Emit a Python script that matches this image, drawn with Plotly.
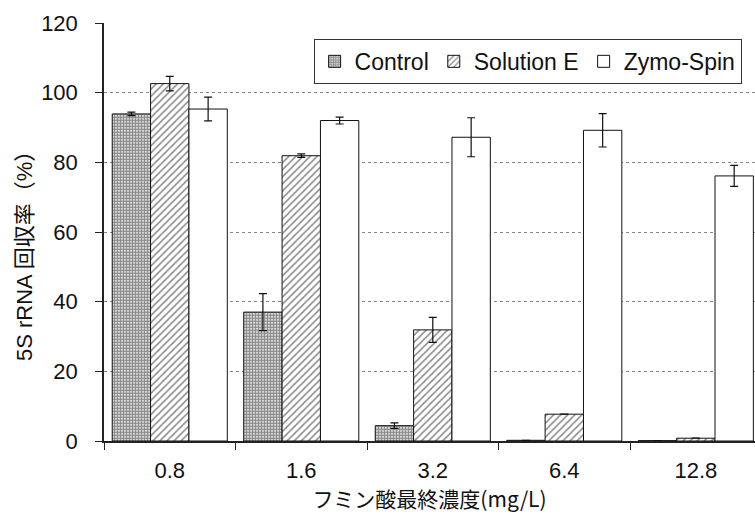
import plotly.graph_objects as go

categories = ["0.8", "1.6", "3.2", "6.4", "12.8"]
control = [93.9, 37.0, 4.4, 0.2, 0.1]
control_err = [0.5, 5.3, 0.8, 0.0, 0.0]
solution_e = [102.6, 81.9, 31.9, 7.7, 0.8]
solution_e_err = [2.1, 0.5, 3.6, 0.0, 0.0]
zymo = [95.3, 92.0, 87.2, 89.2, 76.1]
zymo_err = [3.4, 1.0, 5.6, 4.8, 3.0]

font_lat = "Liberation Sans, Arial, Noto Sans CJK JP"

fig = go.Figure()
series = [
    ("Control", control, control_err, dict(shape=".", size=3, solidity=0.7, fgcolor="#111", bgcolor="white", fillmode="overlay")),
    ("Solution E", solution_e, solution_e_err, dict(shape="/", size=5, solidity=0.3, fgcolor="#111", bgcolor="white", fillmode="overlay")),
    ("Zymo-Spin", zymo, zymo_err, None),
]
for name, vals, errs, pat in series:
    marker = dict(color="white", line=dict(color="#111", width=1))
    if pat:
        marker["pattern"] = pat
    fig.add_trace(go.Bar(
        name=name, x=categories, y=vals,
        marker=marker,
        error_y=dict(type="data", array=errs, visible=True, color="#111", thickness=1.2, width=4),
    ))

fig.update_layout(
    width=755, height=517,
    margin=dict(l=104, r=0, t=23, b=76),
    paper_bgcolor="white", plot_bgcolor="white",
    barmode="group", bargap=0.125, bargroupgap=0,
    font=dict(family=font_lat, size=22, color="#111"),
    legend=dict(
        orientation="h", x=0.322, y=0.962, xanchor="left", yanchor="top",
        bordercolor="#333", borderwidth=1, bgcolor="white",
        font=dict(size=23, family=font_lat), itemwidth=30,
        traceorder="normal",
    ),
    xaxis=dict(
        range=[-0.5, 4.45], type="category",
        showline=True, linecolor="#222", linewidth=1.5,
        ticks="outside", tickson="boundaries", ticklen=7, tickcolor="#222",
        tickfont=dict(size=22), ticklabelstandoff=9,
        title=dict(text="フミン酸最終濃度(mg/L)", font=dict(size=21, family="Noto Sans CJK JP, Liberation Sans"), standoff=2),
    ),
    yaxis=dict(
        range=[0, 120], dtick=20,
        showline=True, linecolor="#222", linewidth=1.5,
        ticks="outside", ticklen=7, tickcolor="#222",
        showgrid=True, gridcolor="#888", griddash="dot", gridwidth=1,
        zeroline=False,
        tickfont=dict(size=22), ticklabelstandoff=13,
    ),
    annotations=[dict(
        text="5S rRNA 回収率（%）", textangle=-90,
        xref="paper", yref="paper", x=-0.121, y=0.455,
        xanchor="center", yanchor="middle", showarrow=False,
        font=dict(size=22, family="Liberation Sans, Noto Sans CJK JP", color="#111"),
    )],
)

fig.write_html("out.html")
